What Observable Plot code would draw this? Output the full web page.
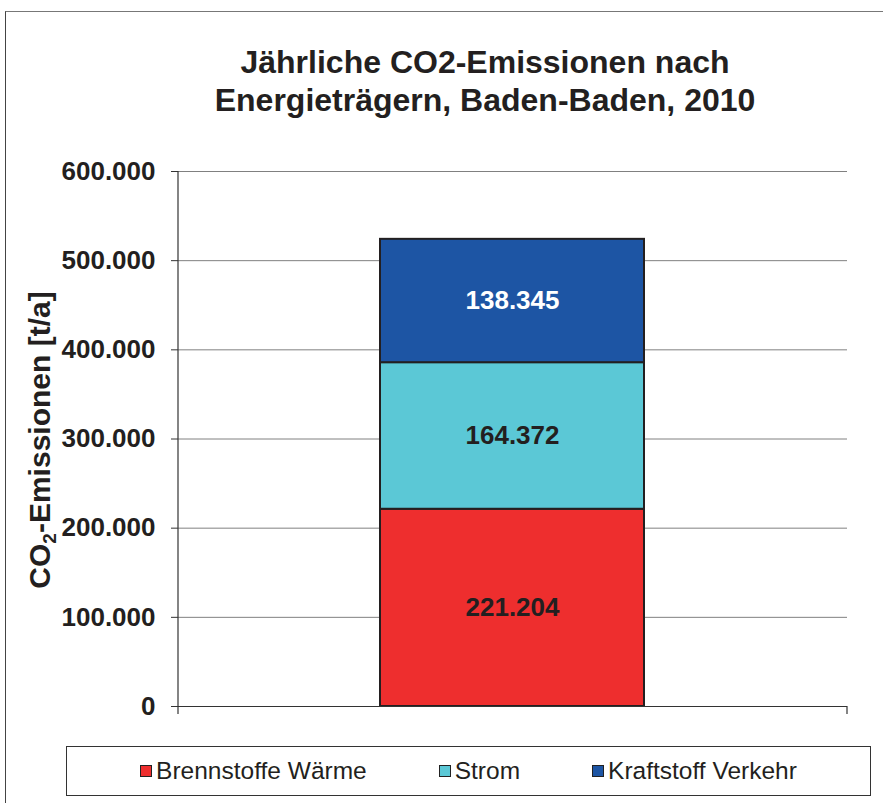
<!DOCTYPE html>
<html>
<head>
<meta charset="utf-8">
<script src="https://cdn.jsdelivr.net/npm/d3@7"></script>
<script src="https://cdn.jsdelivr.net/npm/@observablehq/plot@0.6"></script>
<style>
  html, body { margin: 0; padding: 0; background: #fff; }
  body { font-family: "Liberation Sans", Arial, sans-serif; color: #231f20; }
  #wrap { position: relative; width: 883px; height: 803px; overflow: hidden; }
  #frame { position: absolute; left: 5px; top: 11px; width: 900px; height: 900px;
           border-top: 1px solid #777; border-left: 1px solid #444; box-sizing: border-box; }
  #title { position: absolute; left: 85px; width: 800px; top: 43px; text-align: center;
           font-weight: bold; font-size: 32px; line-height: 38px; }
  #ylabel { position: absolute; left: 40px; top: 440px; transform: translate(-50%, -50%) rotate(-90deg);
            font-weight: bold; font-size: 30px; white-space: nowrap; }
  #ylabel sub { font-size: 19px; vertical-align: -6px; line-height: 0; }
  #legend { position: absolute; left: 66px; top: 746px; width: 805px; height: 50px; box-sizing: border-box;
            border: 1px solid #333; display: flex; align-items: center; justify-content: center; gap: 72px;
            font-size: 24.5px; padding-left: 0px; }
  .item { display: flex; align-items: center; }
  .sw { width: 10px; height: 10px; border: 1.5px solid #222; margin-right: 4px; }
  #chart { position: absolute; left: 0; top: 0; }
</style>
</head>
<body>
<div id="wrap">
  <div id="frame"></div>
  <div id="chart"></div>
  <div id="title">Jährliche CO2-Emissionen nach<br>Energieträgern, Baden-Baden, 2010</div>
  <div id="ylabel">CO<sub>2</sub>-Emissionen [t/a]</div>
  <div id="legend"></div>
</div>
<script>
// ---- data ----
const year = "2010";
const categories = ["Brennstoffe Wärme", "Strom", "Kraftstoff Verkehr"];
const values = [221204, 164372, 138345];
const yTicks = [0, 100000, 200000, 300000, 400000, 500000, 600000];

// ---- styling ----
const palette = ["#EE2E2E", "#5BC8D6", "#1D55A4"];
const labelInk = ["#231f20", "#231f20", "#ffffff"];

const rows = categories.map((c, i) => ({year, cat: c, value: values[i], ink: labelInk[i]}));
const fmt = v => d3.format(",.0f")(v).replace(/,/g, ".");

// custom mark: left axis line + end ticks of the category axis
function axisFrame(index, scales, values, dim) {
  const g = d3.create("svg:g").attr("stroke", "#333").attr("stroke-width", 1.2);
  const x0 = dim.marginLeft, x1 = dim.width - dim.marginRight;
  const yTop = dim.marginTop, yBot = dim.height - dim.marginBottom;
  g.append("line").attr("x1", x0).attr("x2", x0).attr("y1", yTop).attr("y2", yBot + 8);
  g.append("line").attr("x1", x1).attr("x2", x1).attr("y1", yBot).attr("y2", yBot + 8);
  return g.node();
}

const chart = Plot.plot({
  width: 883,
  height: 803,
  marginTop: 171,
  marginBottom: 97,
  marginLeft: 178,
  marginRight: 36,
  style: {fontFamily: "'Liberation Sans', Arial, sans-serif", background: "none", color: "#231f20"},
  x: {domain: [year], padding: 0.433, axis: null},
  y: {domain: [0, 600000], ticks: yTicks, label: null},
  color: {domain: categories, range: palette},
  marks: [
    Plot.gridY(yTicks, {stroke: "#808080", strokeOpacity: 1, strokeWidth: 1}),
    Plot.axisY(yTicks, {tickSize: 7, tickPadding: 16, tickFormat: fmt, fontSize: 26, fontWeight: "bold",
                        stroke: "#333", label: null}),
    Plot.barY(rows, {x: "year", y: "value", fill: "cat", stroke: "#231f20", strokeWidth: 2}),
    Plot.ruleY([0], {stroke: "#333", strokeWidth: 1.2}),
    axisFrame,
    Plot.text(rows, Plot.stackY({x: "year", y: "value", z: "cat", text: d => fmt(d.value),
                                 fill: "ink", fontSize: 26, fontWeight: "bold"}))
  ]
});
document.getElementById("chart").appendChild(chart);

// legend (HTML)
const lg = d3.select("#legend");
categories.forEach((c, i) => {
  const it = lg.append("div").attr("class", "item");
  it.append("div").attr("class", "sw").style("background", palette[i]);
  it.append("span").text(c);
});
</script>
</body>
</html>
